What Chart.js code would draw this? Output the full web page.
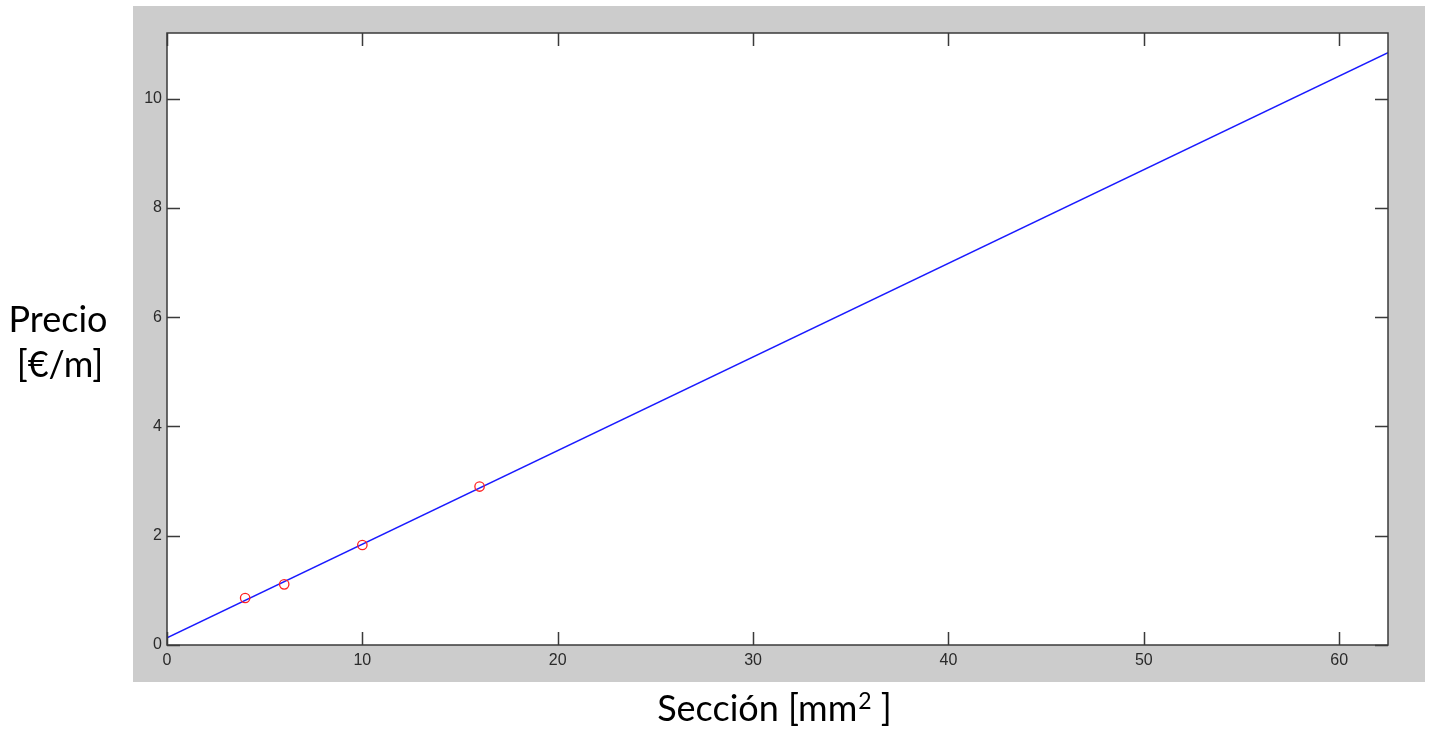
<!DOCTYPE html>
<html>
<head>
<meta charset="utf-8">
<script src="https://cdn.jsdelivr.net/npm/chart.js@4"></script>
<style>
  html, body { margin: 0; padding: 0; background: #fff; }
  #wrap { width: 1429px; height: 738px; }
</style>
</head>
<body>
<div id="wrap"><canvas id="myChart" width="1429" height="738"></canvas></div>
<script>
// Datos medidos (sección en mm2, precio en €/m)
const seccion = [4, 6, 10, 16];
const precio = [0.86, 1.11, 1.83, 2.90];

// Recta de ajuste (extremos)
const ajusteX = [0, 62.5];
const ajusteY = [0.13, 10.84];

// Marcas de los ejes
const ticksX = [0, 10, 20, 30, 40, 50, 60];
const ticksY = [0, 2, 4, 6, 8, 10];

const tituloY = ["Precio", "[€/m]"];
const tituloX = ["Sección [mm", "2", " ]"]; // texto, superíndice, cierre

// Fondo gris, marco y marcas hacia dentro (estilo MATLAB)
const marcoMatlab = {
    id: 'marcoMatlab',
    beforeDraw(chart) {
        const ctx = chart.ctx;
        const a = chart.chartArea;
        ctx.save();
        ctx.fillStyle = '#ffffff';
        ctx.fillRect(0, 0, chart.width, chart.height);
        ctx.fillStyle = '#cccccc';
        ctx.fillRect(a.left - 34, a.top - 27, (a.right - a.left) + 71, (a.bottom - a.top) + 64);
        ctx.fillStyle = '#ffffff';
        ctx.fillRect(a.left, a.top, a.right - a.left, a.bottom - a.top);
        ctx.restore();
    },
    afterDraw(chart) {
        const ctx = chart.ctx;
        const a = chart.chartArea;
        const sx = chart.scales.x;
        const sy = chart.scales.y;
        const largo = 13;
        ctx.save();
        ctx.strokeStyle = '#3a3a3a';
        ctx.lineWidth = 1.5;
        ctx.strokeRect(a.left, a.top, a.right - a.left, a.bottom - a.top);
        ctx.beginPath();
        ticksX.forEach(v => {
            const px = Math.round(sx.getPixelForValue(v)) + 0.5;
            ctx.moveTo(px, a.bottom); ctx.lineTo(px, a.bottom - largo);
            ctx.moveTo(px, a.top); ctx.lineTo(px, a.top + largo);
        });
        ticksY.forEach(v => {
            const py = Math.round(sy.getPixelForValue(v)) + 0.5;
            ctx.moveTo(a.left, py); ctx.lineTo(a.left + largo, py);
            ctx.moveTo(a.right, py); ctx.lineTo(a.right - largo, py);
        });
        ctx.stroke();

        // Títulos de los ejes
        ctx.fillStyle = '#000000';
        ctx.font = '36px Lato';
        ctx.textAlign = 'center';
        ctx.textBaseline = 'alphabetic';
        ctx.fillText(tituloY[0], 58, 332);
        ctx.fillText(tituloY[1], 60, 377);

        // Título X con superíndice
        ctx.textAlign = 'left';
        const fGrande = '36px Lato';
        const fSup = '23px Lato';
        ctx.font = fGrande;
        const w1 = ctx.measureText(tituloX[0]).width;
        const w3 = ctx.measureText(tituloX[2]).width;
        ctx.font = fSup;
        const w2 = ctx.measureText(tituloX[1]).width;
        let x0 = 774 - (w1 + w2 + w3) / 2;
        const base = 721;
        ctx.font = fGrande;
        ctx.fillText(tituloX[0], x0, base);
        ctx.font = fSup;
        ctx.fillText(tituloX[1], x0 + w1 + 1, base - 12);
        ctx.font = fGrande;
        ctx.fillText(tituloX[2], x0 + w1 + w2 + 1, base);
        ctx.restore();
    }
};

const ctx = document.getElementById('myChart').getContext('2d');
new Chart(ctx, {
    type: 'scatter',
    data: {
        datasets: [
            {
                label: 'Ajuste',
                data: ajusteX.map((x, i) => ({ x: x, y: ajusteY[i] })),
                showLine: true,
                borderColor: '#1a1aff',
                borderWidth: 1.5,
                pointRadius: 0,
                fill: false,
                order: 2
            },
            {
                label: 'Datos',
                data: seccion.map((x, i) => ({ x: x, y: precio[i] })),
                showLine: false,
                pointStyle: 'circle',
                pointRadius: 4.7,
                pointBorderWidth: 1.3,
                pointBorderColor: '#ff2020',
                pointBackgroundColor: 'rgba(0,0,0,0)',
                order: 1
            }
        ]
    },
    options: {
        responsive: false,
        animation: false,
        layout: { padding: { left: 0, right: 41, top: 33, bottom: 0 } },
        plugins: {
            legend: { display: false },
            tooltip: { enabled: false }
        },
        scales: {
            x: {
                type: 'linear',
                min: 0,
                max: 62.5,
                afterBuildTicks: s => { s.ticks = ticksX.map(v => ({ value: v })); },
                afterFit: s => { s.height = 93; },
                grid: { display: false, drawTicks: false },
                border: { display: false },
                ticks: {
                    padding: 6,
                    color: '#2a2a2a',
                    font: { family: 'Liberation Sans', size: 16 }
                }
            },
            y: {
                type: 'linear',
                min: 0,
                max: 11.2,
                afterBuildTicks: s => { s.ticks = ticksY.map(v => ({ value: v })); },
                afterFit: s => { s.width = 167; },
                grid: { display: false, drawTicks: false },
                border: { display: false },
                ticks: {
                    padding: 5,
                    color: '#2a2a2a',
                    font: { family: 'Liberation Sans', size: 16 }
                }
            }
        }
    },
    plugins: [marcoMatlab]
});
</script>
</body>
</html>
